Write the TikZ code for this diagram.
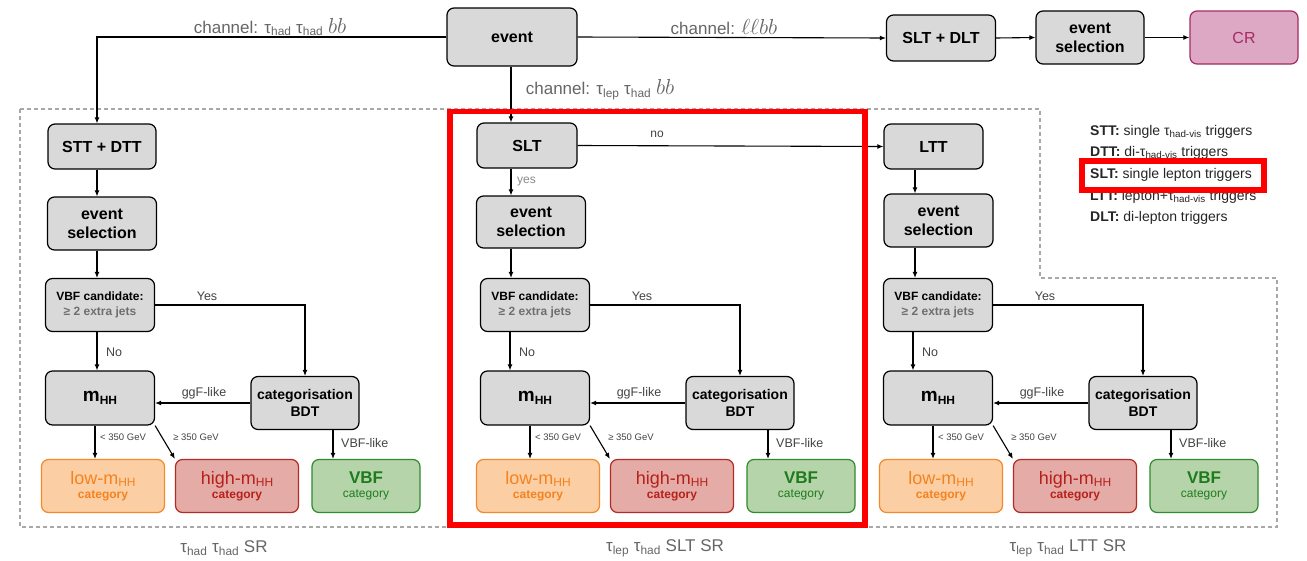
\RequirePackage{fix-cm}
\documentclass[tikz,border=0pt]{standalone}
\usepackage{graphicx}
\usepackage{fontspec}
\setmainfont{Liberation Sans}
\usetikzlibrary{arrows.meta}

\definecolor{boxgray}{HTML}{D9D9D9}
\definecolor{labgray}{HTML}{666666}
\definecolor{edgegray}{HTML}{444444}
\definecolor{yesgray}{HTML}{8A8A8A}
\definecolor{jetgray}{HTML}{6F6F6F}
\definecolor{dashgray}{HTML}{A8A8A8}
\definecolor{lowfill}{HTML}{FBCFA3}
\definecolor{lowline}{HTML}{F5882A}
\definecolor{lowtext}{HTML}{F58220}
\definecolor{highfill}{HTML}{E5ABA7}
\definecolor{highline}{HTML}{B52A22}
\definecolor{hightext}{HTML}{B5211B}
\definecolor{vbffill}{HTML}{B6D4A9}
\definecolor{vbfline}{HTML}{2E8B2E}
\definecolor{vbftext}{HTML}{1E7B1E}
\definecolor{crfill}{HTML}{DCA8C3}
\definecolor{crline}{HTML}{A62A64}
\definecolor{hilite}{HTML}{FF0000}

\newcommand\fs[2]{\fontsize{#1}{#2}\selectfont}
\newcommand\tsub[2]{#1\textsubscript{#2}}
\newcommand\chmath[1]{\scalebox{1.28}{$#1$}}

\tikzset{
  sz/.style n args={2}{minimum width=#1pt, minimum height=#2pt},
  box/.style={draw=black, fill=boxgray, rounded corners=7pt, line width=1.2pt,
    align=center, inner sep=0pt, font=\bfseries\fs{16}{19}},
  catbox/.style={rounded corners=7pt, line width=1.2pt, align=center,
    inner sep=0pt, sz={123}{53}},
  arr/.style={-{Latex[length=6pt,width=5pt]}, line width=1.1pt},
  chan/.style={text=labgray, font=\fs{17}{20}, inner sep=0pt},
  elab/.style={text=edgegray, font=\fs{12.5}{15}, inner sep=0pt},
  slab/.style={text=edgegray, font=\fs{9.5}{11}, inner sep=0pt},
  leg/.style={anchor=west, text=black!85, font=\fs{14}{16}, inner sep=0pt},
  srlab/.style={text=labgray, font=\fs{17}{20}, inner sep=0pt},
  region/.style={draw=dashgray, line width=1.6pt, dash pattern=on 4pt off 3pt},
  hilitebox/.style={draw=hilite, line width=5.5pt},
}

% VBF split, m_HH split and the three categories of one analysis channel
% #1 name prefix, #2 horizontal shift, #3 local x of the "No" arrow
\newcommand\lowerpart[3]{%
\begin{scope}[shift={(#2,0)}]
  \node[box, sz={109}{53}, font=\bfseries\fs{12}{15}] (#1vbf) at (100,305)
    {VBF candidate:\\\textcolor{jetgray}{≥ 2 extra jets}};
  \node[box, sz={109}{54}, font=\bfseries] (#1m) at (100,398)
    {\fs{19}{22}m\raisebox{-3pt}{\fs{12}{14}HH}};
  \node[box, sz={108}{53}, font=\bfseries\fs{14}{17}] (#1bdt) at (305,403)
    {categorisation\\BDT};
  \node[catbox, draw=lowline, fill=lowfill, text=lowtext] (#1low) at (103,486)
    {\fs{18}{20}low-m\raisebox{-2.5pt}{\fs{12}{14}HH}\\[2pt]\bfseries\fs{12}{14}category};
  \node[catbox, draw=highline, fill=highfill, text=hightext] (#1high) at (237,486)
    {\fs{18}{20}high-m\raisebox{-2.5pt}{\fs{12}{14}HH}\\[2pt]\bfseries\fs{12}{14}category};
  \node[catbox, sz={108}{53}, draw=vbfline, fill=vbffill, text=vbftext] (#1cat) at (366,486)
    {\bfseries\fs{17}{20}VBF\\[2pt]\fs{12}{14}category};
  \coordinate (#1nx) at (#3,0);
  \coordinate (#1lx) at (95,0);
  \coordinate (#1vx) at (333,0);
  \draw[arr] (#1vbf.south -| #1nx) -- (#1m.north -| #1nx);
  \node[elab, anchor=west] (#1no) at (#3+9,352) {No};
  \draw[arr] (#1vbf.east) -| (#1bdt.north);
  \node[elab] (#1yes) at (207,296) {Yes};
  \draw[arr] (#1bdt.west) -- (#1bdt.west -| #1m.east);
  \node[elab] (#1ggf) at (204,393) {ggF-like};
  \draw[arr] (#1m.south -| #1lx) -- (#1low.north -| #1lx);
  \node[slab, anchor=west] (#1lt) at (100,437) {< 350 GeV};
  \draw[arr] (#1m.south east) -- (#1high.north west);
  \node[slab] (#1ge) at (196,437) {≥ 350 GeV};
  \draw[arr] (#1bdt.south -| #1vx) -- (#1cat.north -| #1vx);
  \node[elab, anchor=west] (#1vl) at (341,443) {VBF-like};
\end{scope}}

\begin{document}
\begin{tikzpicture}[x=1pt, y=-1pt]
\fill[white] (0,0) rectangle (1307,560);
\useasboundingbox (0,0) rectangle (1307,560);

% signal-region outline
\draw[region] (20,109) -- (1040,109) -- (1040,278) -- (1277,278)
  -- (1277,527) -- (20,527) -- cycle;

% top row
\node[box, sz={130}{58}] (ev) at (512,37) {event};
\node[box, sz={109}{46}] (sltdlt) at (941,38) {SLT + DLT};
\node[box, sz={108}{53}] (es0) at (1090,37.5) {event\\selection};
\node[box, sz={108}{53}, draw=crline, fill=crfill, text=crline, font=\fs{16}{19}] (cr) at (1244,37.5) {CR};

% column guide lines
\coordinate (colA) at (97,0);
\coordinate (colB) at (511,0);
\coordinate (colC) at (915,0);

% trigger boxes and event selections
\node[box, sz={108}{45}] (stt) at (102,146.5) {STT + DTT};
\node[box, sz={109}{53}] (esA) at (102,223.5) {event\\selection};
\node[box, sz={100}{45}] (slt) at (527,145.5) {SLT};
\node[box, sz={109}{52}] (esB) at (531,222) {event\\selection};
\node[box, sz={99}{45}] (ltt) at (933.5,146.5) {LTT};
\node[box, sz={109}{53}] (esC) at (938.5,220.5) {event\\selection};

\lowerpart{A}{0}{97}
\lowerpart{B}{435}{75}
\lowerpart{C}{838}{75}

% channel split
\draw[arr] (ev.west) -| (stt.north -| colA);
\node[chan] (chA) at (270,27) {channel: \tsub{τ}{had} \tsub{τ}{had} \chmath{bb}};
\draw[arr] (ev.south -| colB) -- (slt.north -| colB);
\node[chan] (chB) at (600,90) {channel: \tsub{τ}{lep} \tsub{τ}{had} \chmath{bb}};
\draw[arr] (ev.east) -- (sltdlt.west);
\node[chan] (chC) at (724,27) {channel: \chmath{\ell\ell bb}};
\draw[arr] (sltdlt.east) -- (es0.west);
\draw[arr] (es0.east) -- (cr.west);

% upper columns
\draw[arr] (stt.south -| colA) -- (esA.north -| colA);
\draw[arr] (esA.south -| colA) -- (Avbf.north -| colA);
\draw[arr] (slt.south -| colB) -- (esB.north -| colB);
\node[text=yesgray, font=\fs{12}{14}, inner sep=0pt, anchor=west] (yes) at (517,182) {yes};
\draw[arr] (esB.south -| colB) -- (Bvbf.north -| colB);
\draw[arr] (slt.east) -- (ltt.west);
\node[elab, font=\fs{12}{14}] (no) at (657,134) {no};
\draw[arr] (ltt.south -| colC) -- (esC.north -| colC);
\draw[arr] (esC.south -| colC) -- (Cvbf.north -| colC);

% legend
\node[leg] (l1) at (1090,132) {\textbf{STT:} single \tsub{τ}{had-vis} triggers};
\node[leg] (l2) at (1090,153) {\textbf{DTT:} di-\tsub{τ}{had-vis} triggers};
\node[leg] (l3) at (1090,175) {\textbf{SLT:} single lepton triggers};
\node[leg] (l4) at (1090,197) {\textbf{LTT:} lepton+\tsub{τ}{had-vis} triggers};
\node[leg] (l5) at (1090,218) {\textbf{DLT:} di-lepton triggers};

% region names
\node[srlab] (srA) at (224,548) {\tsub{τ}{had} \tsub{τ}{had} SR};
\node[srlab] (srB) at (665,548) {\tsub{τ}{lep} \tsub{τ}{had} SLT SR};
\node[srlab] (srC) at (1068,548) {\tsub{τ}{lep} \tsub{τ}{had} LTT SR};

% highlights
\draw[hilitebox] (450,111.5) rectangle (865,525);
\draw[hilitebox] (1082,161) rectangle (1264,190);
\end{tikzpicture}
\end{document}
